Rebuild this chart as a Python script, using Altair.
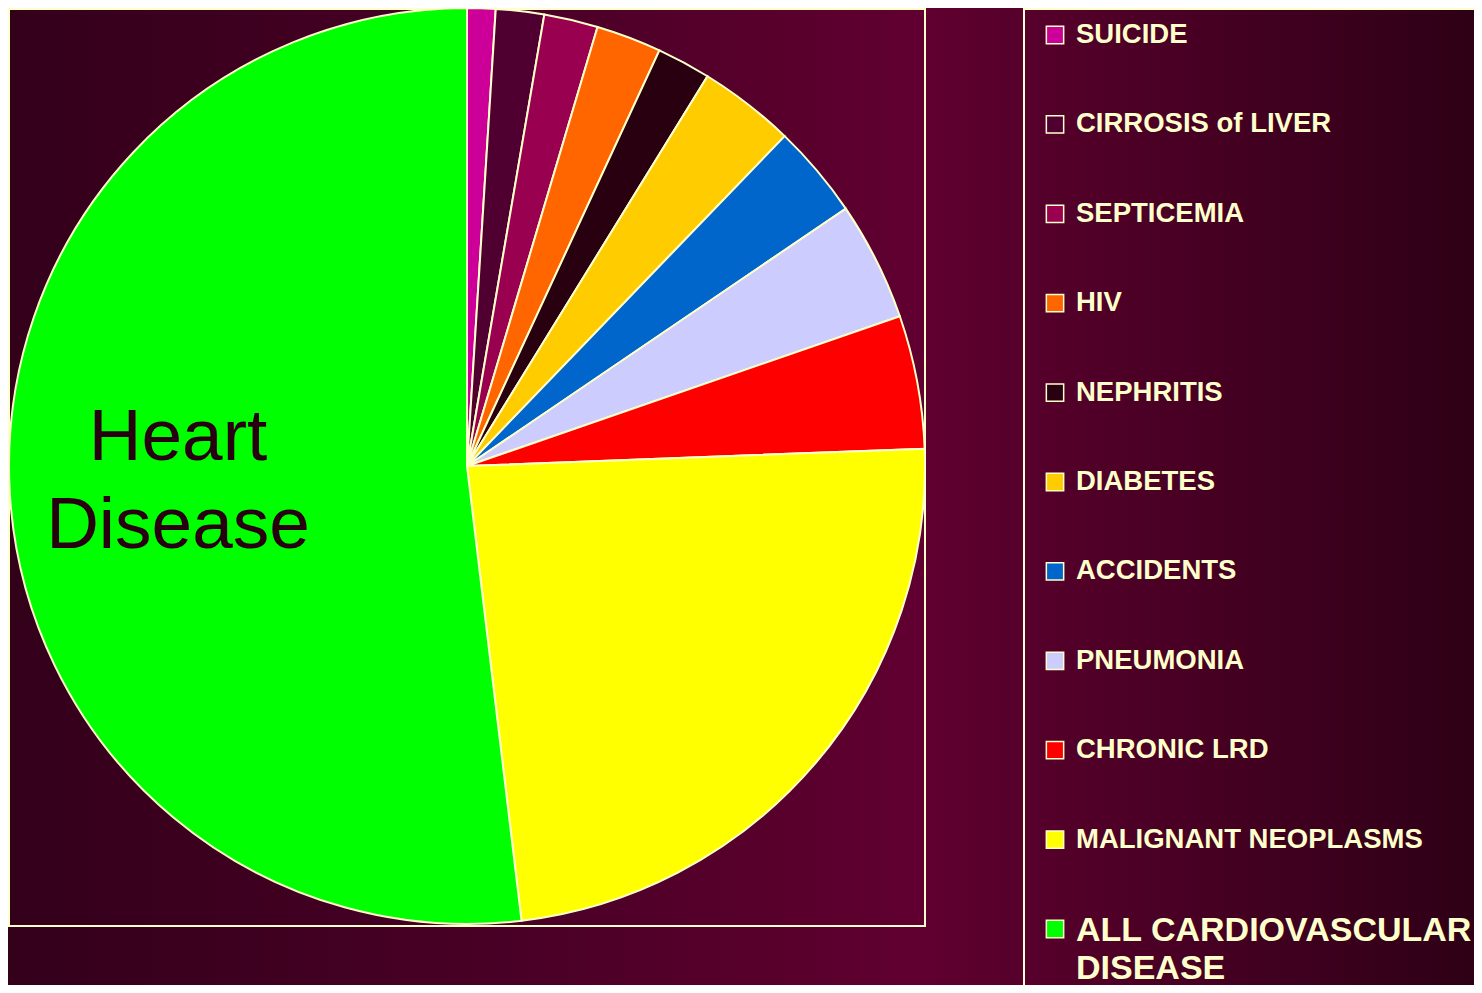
import altair as alt
import pandas as pd

# ---- data ----
causes = ["SUICIDE", "CIRROSIS of LIVER", "SEPTICEMIA", "HIV", "NEPHRITIS",
          "DIABETES", "ACCIDENTS", "PNEUMONIA", "CHRONIC LRD",
          "MALIGNANT NEOPLASMS", "ALL CARDIOVASCULAR DISEASE"]
shares = [1.0, 1.7, 1.9, 2.3, 1.9, 3.4, 3.3, 4.2, 4.7, 23.7, 51.9]
colors = ["#cc0099", "#500030", "#990050", "#ff6600", "#280010",
          "#ffcc00", "#0066cc", "#ccccff", "#ff0000", "#ffff00", "#00ff00"]
legend_labels = ["SUICIDE", "CIRROSIS of LIVER", "SEPTICEMIA", "HIV", "NEPHRITIS",
                 "DIABETES", "ACCIDENTS", "PNEUMONIA", "CHRONIC LRD",
                 "MALIGNANT NEOPLASMS", "ALL CARDIOVASCULAR\nDISEASE"]
annotation = "Heart\nDisease"

W, H = 1466, 977
CREAM = "#ffffcc"

df = pd.DataFrame({"cause": causes, "share": shares, "order": list(range(len(causes))),
                   "label": legend_labels})
df["big"] = df["cause"] == "ALL CARDIOVASCULAR DISEASE"

color = alt.Color("cause:N", scale=alt.Scale(domain=causes, range=colors), legend=None)
one = pd.DataFrame({"t": [annotation]})

bg = alt.Chart(one).mark_rect(
    fill={"gradient": "linear", "x1": 0, "x2": 1, "y1": 0, "y2": 0,
          "stops": [{"offset": 0, "color": "#33001a"},
                    {"offset": 0.35, "color": "#4a0026"},
                    {"offset": 0.62, "color": "#600030"},
                    {"offset": 1, "color": "#2e0016"}]}
).encode(x=alt.value(0), x2=alt.value(W), y=alt.value(0), y2=alt.value(H))

frame = alt.Chart(one).mark_rect(fill=None, stroke=CREAM, strokeWidth=2).encode(
    x=alt.value(1), x2=alt.value(917), y=alt.value(1), y2=alt.value(918))

legbox = alt.Chart(one).mark_rect(fill=None, stroke=CREAM, strokeWidth=2).encode(
    x=alt.value(1016), x2=alt.value(W + 20), y=alt.value(1), y2=alt.value(H + 20))

pie = alt.Chart(df).mark_arc(radius=458, stroke=CREAM, strokeWidth=2).encode(
    theta=alt.Theta("share:Q", stack=True),
    order=alt.Order("order:Q"),
    color=color,
    x=alt.value(459), y=alt.value(458),
)

ly = alt.Y("cause:N", scale=alt.Scale(type="point", domain=causes, range=[27, 921], padding=0),
           axis=None)

squares = alt.Chart(df).mark_square(size=300, opacity=1, stroke=CREAM, strokeWidth=1.5).encode(
    x=alt.value(1047), y=ly, fill=color)

small_text = alt.Chart(df).transform_filter(~alt.datum.big).mark_text(
    align="left", baseline="middle", font="Liberation Sans", fontWeight="bold",
    fontSize=27.5, color=CREAM).encode(x=alt.value(1068), y=ly, text="label:N")

big_text = alt.Chart(df).transform_filter(alt.datum.big).mark_text(
    align="left", baseline="alphabetic", font="Liberation Sans", fontWeight="bold",
    fontSize=34, lineHeight=38, lineBreak="\n", dy=12, color=CREAM).encode(
    x=alt.value(1068), y=ly, text="label:N")

heart = alt.Chart(one).mark_text(
    align="center", baseline="alphabetic", font="Liberation Sans", fontSize=73,
    lineHeight=88, lineBreak="\n", color="#280010").encode(
    x=alt.value(170), y=alt.value(452), text="t:N")

chart = alt.layer(bg, frame, legbox, pie, squares, small_text, big_text, heart).properties(
    width=W, height=H, padding=0, autosize="none", background="#33001a"
).configure_view(stroke=None)

chart.save("out.html", embed_options={"renderer": "svg", "actions": False})
